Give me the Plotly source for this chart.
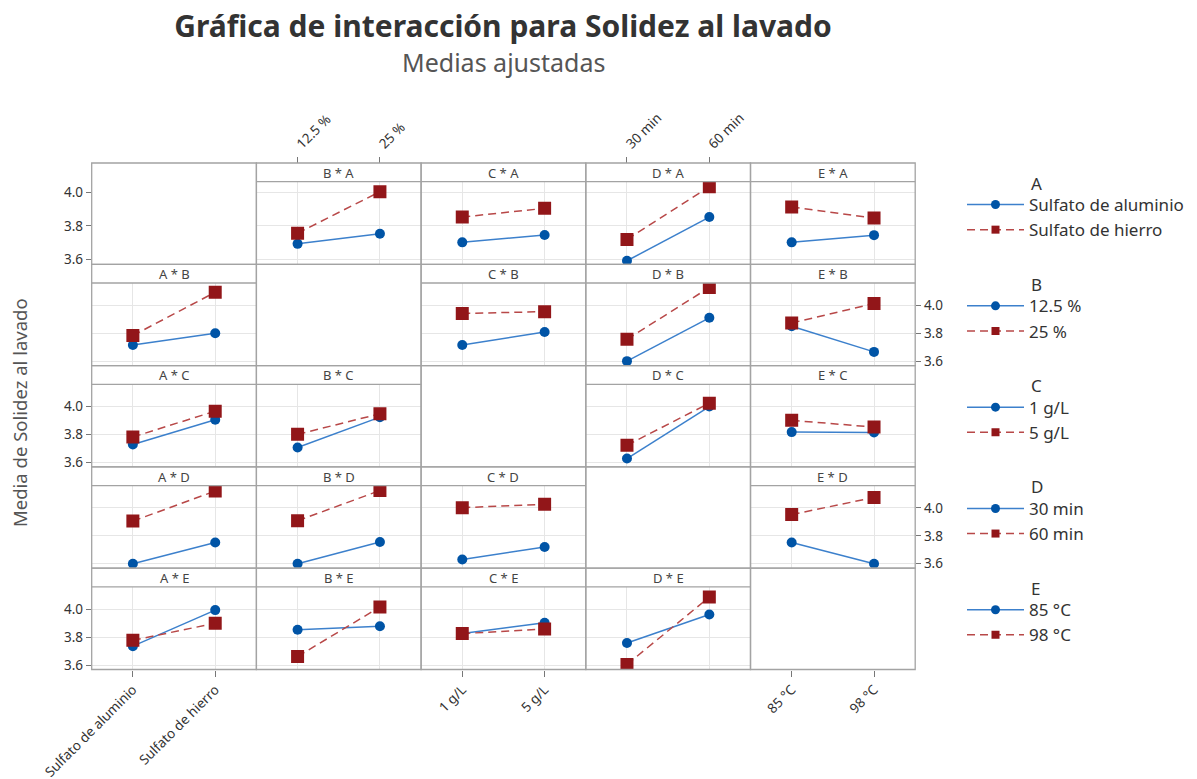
import plotly.graph_objects as go

W, H = 1197, 779

# ---------------- data ----------------
factor_names = ["A", "B", "C", "D", "E"]
A_levels = ["Sulfato de aluminio", "Sulfato de hierro"]
B_levels = ["12.5 %", "25 %"]
C_levels = ["1 g/L", "5 g/L"]
D_levels = ["30 min", "60 min"]
E_levels = ["85 °C", "98 °C"]

# Adjusted means for panel "X * L": [means for 1st level of L, means for 2nd level of L] across levels of X
mean_B_by_A = [[3.693, 3.753], [3.757, 4.004]]
mean_C_by_A = [[3.702, 3.746], [3.853, 3.905]]
mean_D_by_A = [[3.592, 3.853], [3.719, 4.034]]
mean_E_by_A = [[3.702, 3.745], [3.913, 3.847]]

mean_A_by_B = [[3.715, 3.800], [3.783, 4.093]]
mean_C_by_B = [[3.715, 3.808], [3.941, 3.954]]
mean_D_by_B = [[3.600, 3.910], [3.756, 4.127]]
mean_E_by_B = [[3.849, 3.666], [3.873, 4.012]]

mean_A_by_C = [[3.728, 3.906], [3.782, 3.967]]
mean_B_by_C = [[3.707, 3.924], [3.801, 3.948]]
mean_D_by_C = [[3.628, 4.000], [3.723, 4.024]]
mean_E_by_C = [[3.817, 3.815], [3.901, 3.853]]

mean_A_by_D = [[3.600, 3.752], [3.905, 4.120]]
mean_B_by_D = [[3.600, 3.756], [3.907, 4.124]]
mean_C_by_D = [[3.630, 3.720], [4.001, 4.025]]
mean_E_by_D = [[3.752, 3.600], [3.952, 4.074]]

mean_A_by_E = [[3.735, 3.993], [3.777, 3.899]]
mean_B_by_E = [[3.853, 3.877], [3.661, 4.015]]
mean_C_by_E = [[3.825, 3.902], [3.825, 3.857]]
mean_D_by_E = [[3.757, 3.961], [3.604, 4.086]]

y_tick_values = [3.6, 3.8, 4.0]
row_y_range_A = [3.571, 4.064]
row_y_range_other = [3.568, 4.159]

title_text = "Gráfica de interacción para Solidez al lavado"
subtitle_text = "Medias ajustadas"
y_title_text = "Media de Solidez al lavado"

# ---------------- lookups ----------------
levels = {"A": A_levels, "B": B_levels, "C": C_levels, "D": D_levels, "E": E_levels}
means = {
    ("B", "A"): mean_B_by_A, ("C", "A"): mean_C_by_A, ("D", "A"): mean_D_by_A, ("E", "A"): mean_E_by_A,
    ("A", "B"): mean_A_by_B, ("C", "B"): mean_C_by_B, ("D", "B"): mean_D_by_B, ("E", "B"): mean_E_by_B,
    ("A", "C"): mean_A_by_C, ("B", "C"): mean_B_by_C, ("D", "C"): mean_D_by_C, ("E", "C"): mean_E_by_C,
    ("A", "D"): mean_A_by_D, ("B", "D"): mean_B_by_D, ("C", "D"): mean_C_by_D, ("E", "D"): mean_E_by_D,
    ("A", "E"): mean_A_by_E, ("B", "E"): mean_B_by_E, ("C", "E"): mean_C_by_E, ("D", "E"): mean_D_by_E,
}
row_ranges = {"A": row_y_range_A, "B": row_y_range_other, "C": row_y_range_other,
              "D": row_y_range_other, "E": row_y_range_other}

# ---------------- style / geometry ----------------
FONT = "Noto Sans"
TEXT = "#333333"
FRAME = "#a3a3a3"
GRID = "#e6e6e6"
TICK = "#777777"
BLUE_MARK, BLUE_LINE = "#0054A6", "#3C80CC"
RED_MARK, RED_LINE = "#921619", "#B84848"
line_styles = [dict(color=BLUE_LINE, width=1.5), dict(color=RED_LINE, width=1.5, dash="8px,5px")]
marker_styles = [dict(symbol="circle", size=10, color=BLUE_MARK),
                 dict(symbol="square", size=13, color=RED_MARK)]
legend_markers = [dict(symbol="circle", size=9, color=BLUE_MARK),
                  dict(symbol="square", size=8, color=RED_MARK)]

GRID_L, CELL_W, GRID_T, CELL_H, STRIP_H = 91.7, 164.7, 163.0, 101.3, 18.7


def fx(p):
    return p / W


def fy(p):
    return 1 - p / H


fig = go.Figure()
axes = {}
shapes, annotations = [], []
tickfont = dict(family=FONT, size=13.5, color=TEXT)

for i, lf in enumerate(factor_names):          # row -> factor defining the lines
    for j, xf in enumerate(factor_names):      # column -> factor on the x axis
        k = i * 5 + j + 1
        sfx = "" if k == 1 else str(k)
        left = GRID_L + j * CELL_W
        top = GRID_T + i * CELL_H
        bottom = top + CELL_H
        plot_top = top + STRIP_H
        blank = i == j

        shapes.append(dict(type="rect", xref="paper", yref="paper", x0=fx(left), x1=fx(left + CELL_W),
                           y0=fy(bottom), y1=fy(top), line=dict(color=FRAME, width=1.3), layer="above"))
        if not blank:
            shapes.append(dict(type="line", xref="paper", yref="paper", x0=fx(left), x1=fx(left + CELL_W),
                               y0=fy(plot_top), y1=fy(plot_top), line=dict(color=FRAME, width=1.3),
                               layer="above"))
            annotations.append(dict(text=f"{xf} * {lf}", xref="paper", yref="paper",
                                    x=fx(left + CELL_W / 2), y=fy(top + STRIP_H / 2 + 0.5),
                                    xanchor="center", yanchor="middle", showarrow=False,
                                    font=dict(family=FONT, size=13, color="#444444")))

        show_x = i == 4 and j in (0, 2, 4)
        show_y = (j == 0 and i in (0, 2, 4)) or (j == 4 and i in (1, 3))
        axes["xaxis" + sfx] = dict(domain=[fx(left), fx(left + CELL_W)], anchor="y" + sfx,
                                   type="category", range=[-0.5, 1.5], showgrid=not blank,
                                   gridcolor=GRID, gridwidth=1, zeroline=False, showline=False,
                                   ticks="outside" if show_x else "", ticklen=6, tickcolor=TICK,
                                   showticklabels=show_x, tickangle=-45, tickfont=tickfont,
                                   automargin=False)
        axes["yaxis" + sfx] = dict(domain=[fy(bottom), fy(plot_top)], anchor="x" + sfx,
                                   range=row_ranges[lf], tickvals=y_tick_values, tickformat=".1f",
                                   showgrid=not blank, gridcolor=GRID, gridwidth=1, zeroline=False,
                                   showline=False, ticks="outside" if show_y else "", ticklen=5,
                                   tickcolor=TICK, showticklabels=show_y,
                                   side="right" if j == 4 else "left", tickfont=tickfont,
                                   automargin=False)

        if blank:
            fig.add_trace(go.Scatter(x=levels[xf], y=[None] * len(levels[xf]), mode="markers",
                                     showlegend=False, hoverinfo="skip",
                                     xaxis="x" + sfx, yaxis="y" + sfx))
            continue

        data = means[(xf, lf)]
        for m, series in enumerate(data):
            fig.add_trace(go.Scatter(
                x=levels[xf], y=series, mode="lines+markers",
                name=levels[lf][m], line=line_styles[m], marker=marker_styles[m],
                showlegend=False, xaxis="x" + sfx, yaxis="y" + sfx,
                hovertemplate=f"{xf}=%{{x}}<br>{lf}={levels[lf][m]}<br>%{{y:.3f}}<extra></extra>"))

# top tick axes for B and D columns
for n, j in ((26, 1), (27, 3)):
    xf = factor_names[j]
    left = GRID_L + j * CELL_W
    axes[f"xaxis{n}"] = dict(domain=[fx(left), fx(left + CELL_W)], overlaying=f"x{j + 1}",
                             anchor="free", position=fy(GRID_T), side="top", type="category",
                             range=[-0.5, 1.5], showgrid=False, zeroline=False, showline=False,
                             ticks="outside", ticklen=6, tickcolor=TICK, tickangle=-45,
                             tickfont=tickfont, automargin=False)
    fig.add_trace(go.Scatter(x=levels[xf], y=[None] * len(levels[xf]), mode="markers",
                             showlegend=False, hoverinfo="skip", xaxis=f"x{n}", yaxis=f"y{j + 1}"))

# legends, one per row factor
LEG_FONT = 17
legends = {}
for i, lf in enumerate(factor_names):
    key = "legend" if i == 0 else f"legend{i + 1}"
    top = GRID_T + i * CELL_H
    legends[key] = dict(x=fx(962), y=fy(top + 24), xanchor="left", yanchor="top",
                        font=dict(family=FONT, size=LEG_FONT, color=TEXT), itemwidth=57,
                        bgcolor="rgba(0,0,0,0)", tracegroupgap=0, itemclick=False,
                        itemdoubleclick=False)
    annotations.append(dict(text=lf, xref="paper", yref="paper", x=fx(1029), y=fy(top + 20),
                            xanchor="left", yanchor="middle", showarrow=False,
                            font=dict(family=FONT, size=LEG_FONT, color=TEXT)))
    for m, lvl in enumerate(levels[lf]):
        fig.add_trace(go.Scatter(x=[None], y=[None], mode="lines+markers", name=lvl,
                                 line=line_styles[m], marker=legend_markers[m], legend=key,
                                 showlegend=True, xaxis="x", yaxis="y", hoverinfo="skip"))

annotations.append(dict(text=subtitle_text, xref="paper", yref="paper", x=fx(503), y=fy(62),
                        xanchor="center", yanchor="middle", showarrow=False,
                        font=dict(family=FONT, size=25, color="#555555")))
annotations.append(dict(text=y_title_text, xref="paper", yref="paper", x=fx(19), y=fy(413),
                        xanchor="center", yanchor="middle", textangle=-90, showarrow=False,
                        font=dict(family=FONT, size=18.5, color="#555555")))

fig.update_layout(
    width=W, height=H, margin=dict(l=0, r=0, t=0, b=0),
    paper_bgcolor="white", plot_bgcolor="white",
    title=dict(text=title_text, x=fx(503), y=fy(26), xanchor="center", yanchor="middle",
               font=dict(family=FONT, size=30, color="#333333", weight="bold")),
    shapes=shapes, annotations=annotations, **axes, **legends,
)

fig.write_html("out.html", config={"displayModeBar": False},
               post_script="document.body.style.margin='0';")
